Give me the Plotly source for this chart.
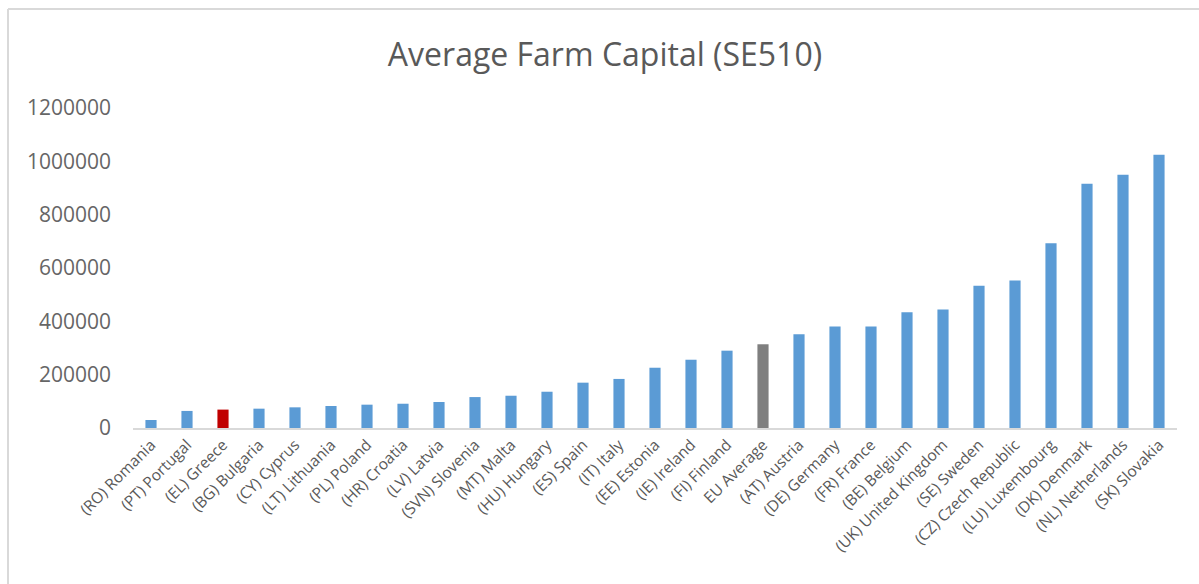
import plotly.graph_objects as go

categories = ["(RO) Romania", "(PT) Portugal", "(EL) Greece", "(BG) Bulgaria", "(CY) Cyprus",
              "(LT) Lithuania", "(PL) Poland", "(HR) Croatia", "(LV) Latvia", "(SVN) Slovenia",
              "(MT) Malta", "(HU) Hungary", "(ES) Spain", "(IT) Italy", "(EE) Estonia",
              "(IE) Ireland", "(FI) Finland", "EU Average", "(AT) Austria", "(DE) Germany",
              "(FR) France", "(BE) Belgium", "(UK) United Kingdom", "(SE) Sweden",
              "(CZ) Czech Republic", "(LU) Luxembourg", "(DK) Denmark", "(NL) Netherlands",
              "(SK) Slovakia"]
values = [30000, 64000, 69000, 72500, 77500, 82500, 87500, 91000, 97500, 116000,
          121000, 136000, 170000, 184000, 226000, 256000, 290000, 314000, 352000, 381000,
          381000, 434000, 444000, 533000, 553000, 693000, 916000, 950000, 1025000]
y_ticks = [0, 200000, 400000, 600000, 800000, 1000000, 1200000]

BLUE = "#5B9BD5"
RED = "#C00000"
GRAY = "#7F7F7F"
colors = [RED if c == "(EL) Greece" else GRAY if c == "EU Average" else BLUE for c in categories]

W, H = 1199, 584
L, R, T, B = 133, 22, 108, 156
pw, ph = W - L - R, H - T - B

fig = go.Figure(go.Bar(x=categories, y=values, marker=dict(color=colors, line=dict(width=0))))

def px_x(p):
    return (p - L) / pw

def px_y(p):
    return (H - B - p) / ph

line_col = "#D9D9D9"
fig.add_shape(type="line", xref="paper", yref="paper", x0=px_x(8), x1=px_x(8),
              y0=px_y(H + 5), y1=px_y(9), line=dict(color=line_col, width=2))
fig.add_shape(type="line", xref="paper", yref="paper", x0=px_x(8), x1=px_x(W + 5),
              y0=px_y(9), y1=px_y(9), line=dict(color=line_col, width=2))

fig.update_layout(
    width=W, height=H,
    margin=dict(l=L, r=R, t=T, b=B),
    paper_bgcolor="white", plot_bgcolor="white",
    bargap=0.69,
    showlegend=False,
    font=dict(family="Open Sans", color="#595959"),
    title=dict(text="Average Farm Capital (SE510)", x=605 / W, xref="container", xanchor="center",
               y=1 - 55 / H, yref="container", yanchor="middle",
               font=dict(size=32, color="#595959", family="Open Sans")),
    xaxis=dict(tickangle=-45, tickfont=dict(size=15.5, color="#595959"), showgrid=False,
               showline=True, linecolor=line_col, linewidth=1.5, ticks=""),
    yaxis=dict(range=[0, 1200000], tickvals=y_ticks, tickformat="d",
               tickfont=dict(size=21, color="#666666"), showgrid=False, zeroline=False,
               showline=False, ticks="", ticklabelstandoff=21),
)

fig.write_html("out.html")
